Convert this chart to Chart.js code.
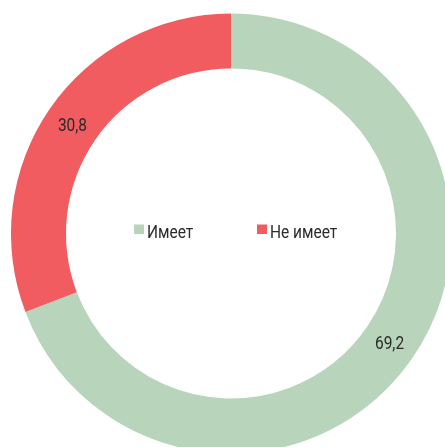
<!DOCTYPE html>
<html>
<head>
<meta charset="utf-8">
<script src="https://cdn.jsdelivr.net/npm/chart.js@4/dist/chart.umd.min.js"></script>
<style>
html,body{margin:0;padding:0;width:445px;height:447px;overflow:hidden;background:#fff;}
#c{position:absolute;left:11px;top:13px;}
</style>
</head>
<body>
<canvas id="c" width="440" height="441"></canvas>
<script>
const categories = ["Имеет", "Не имеет"];
const values = [69.2, 30.8];
const colors = ["#b8d5bb", "#f05c5f"];

const FONT = '"Roboto", "DejaVu Sans", sans-serif';
const SX = 0.86;

function narrowText(ctx, text, x, y, align) {
  ctx.save();
  ctx.translate(x, y);
  ctx.scale(SX, 1);
  ctx.textAlign = align;
  ctx.fillText(text, 0, 0);
  ctx.restore();
}

const labelPlugin = {
  id: 'labels',
  afterDatasetsDraw(chart) {
    const ctx = chart.ctx;
    const meta = chart.getDatasetMeta(0);
    ctx.save();
    ctx.font = '18px ' + FONT;
    ctx.fillStyle = '#2b2b2b';
    ctx.textBaseline = 'middle';
    meta.data.forEach((arc, i) => {
      const p = arc.tooltipPosition();
      narrowText(ctx, String(values[i]).replace('.', ','), p.x, p.y + 2, 'center');
    });
    // center legend
    const a = meta.data[0];
    const cx = a.x, cy = a.y;
    const offsets = [-97, 26];
    ctx.textBaseline = 'alphabetic';
    categories.forEach((c, i) => {
      const x = cx + offsets[i];
      ctx.fillStyle = colors[i];
      ctx.fillRect(x, cy - 9, 10, 9.5);
      ctx.fillStyle = '#2b2b2b';
      narrowText(ctx, c, x + 13, cy + 4, 'left');
    });
    ctx.restore();
  }
};

new Chart(document.getElementById('c'), {
  type: 'doughnut',
  data: {
    labels: categories,
    datasets: [{
      data: values,
      backgroundColor: colors,
      borderWidth: 0
    }]
  },
  options: {
    responsive: false,
    animation: false,
    cutout: '75%',
    layout: { padding: 0 },
    plugins: {
      legend: { display: false },
      tooltip: { enabled: false }
    }
  },
  plugins: [labelPlugin]
});
</script>
</body>
</html>
